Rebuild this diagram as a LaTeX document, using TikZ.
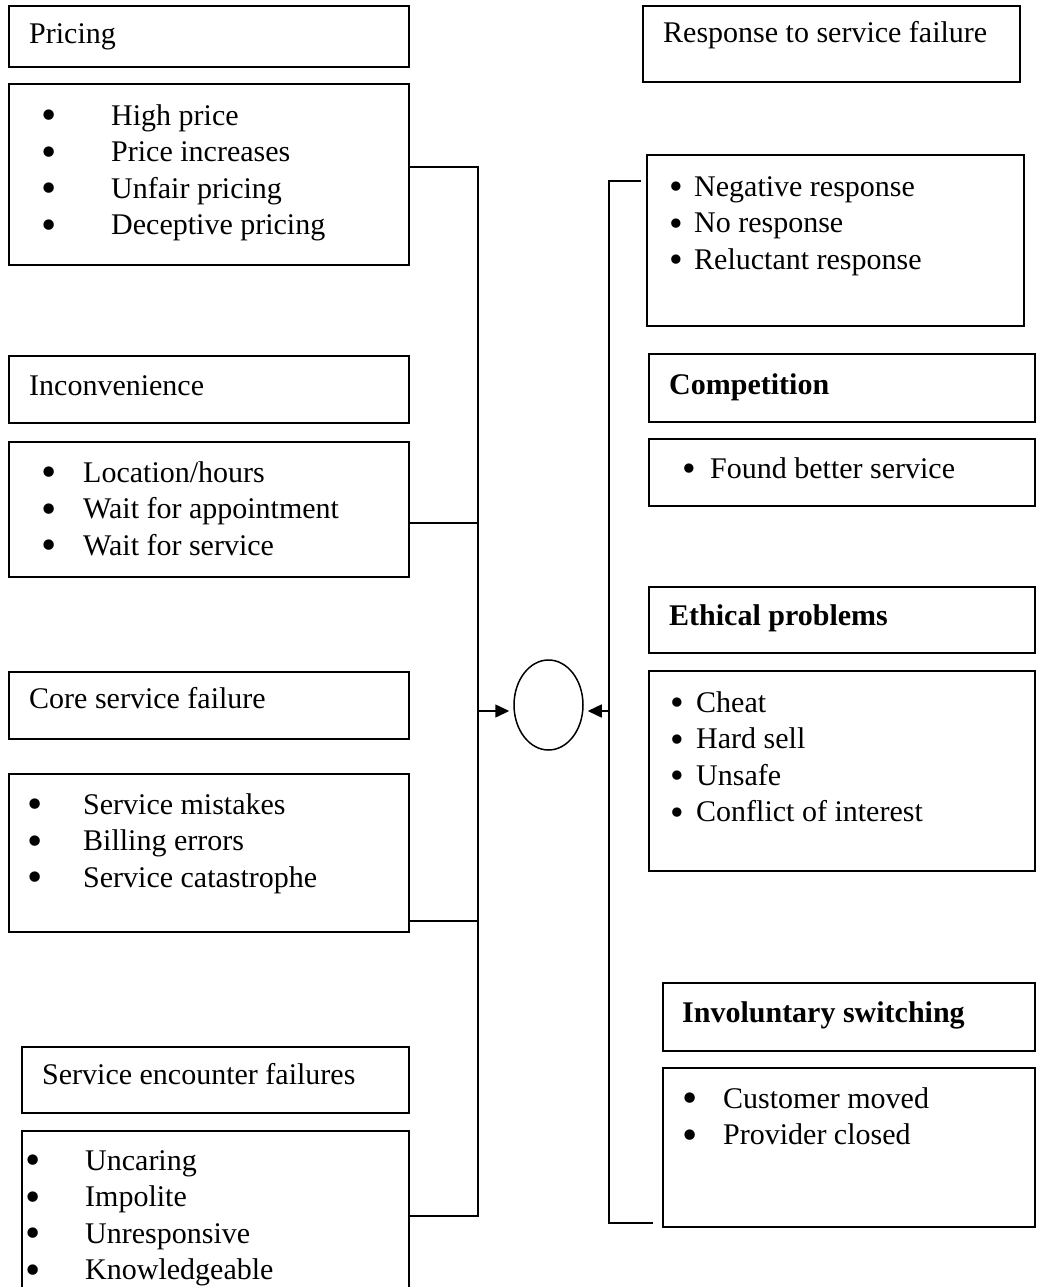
\documentclass[tikz,border=0pt]{standalone}
\usepackage{fontspec}
\setmainfont{Liberation Serif}
\usepackage{graphicx}
\usetikzlibrary{arrows.meta,fit,shapes.geometric}
\newcommand\mybul{\makebox[0pt][c]{\raisebox{-4.5pt}{\scalebox{1.45}{\textbullet}}}}
\newcommand\mybulr{\makebox[0pt][c]{\raisebox{-3.5pt}{\scalebox{1.3}{\textbullet}}}}
\newcommand\mkbox[5]{\node[boxs, fit={(#2,#3)(#4,#5)}] (#1) {};}
\tikzset{
  boxs/.style={draw, line width=1.5pt, inner sep=0pt},
  txt/.style={anchor=base west, inner sep=0pt, font=\fontsize{30}{36.5}\selectfont},
  conn/.style={line width=1.5pt},
  arr/.style={line width=1.5pt, -{Triangle[length=14pt,width=13pt]}, shorten >=4pt},
}
\begin{document}
\begin{tikzpicture}[x=1pt,y=-1pt]
\fill[white] (0,0) rectangle (1036,1287);
\useasboundingbox (0,0) rectangle (1036,1287);
% ---- left column ----
\mkbox{pH}{9}{6}{409}{67}
\node[txt] (pHt) at (29,44) {Pricing};
\mkbox{pB}{9}{84}{409}{265}
\node[txt] (pBt) at (49,125) {\begin{tabular}[t]{@{}p{62pt}@{}l@{}}
\mybul & High price\\ \mybul & Price increases\\ \mybul & Unfair pricing\\ \mybul & Deceptive pricing\end{tabular}};
\mkbox{iH}{9}{356}{409}{423}
\node[txt] (iHt) at (29,395) {Inconvenience};
\mkbox{iB}{9}{442}{409}{577}
\node[txt] (iBt) at (49,482) {\begin{tabular}[t]{@{}p{34pt}@{}l@{}}
\mybul & Location/hours\\ \mybul & Wait for appointment\\ \mybul & Wait for service\end{tabular}};
\mkbox{cH}{9}{672}{409}{739}
\node[txt] (cHt) at (29,708) {Core service failure};
\mkbox{cB}{9}{774}{409}{932}
\node[txt] (cBt) at (35,814) {\begin{tabular}[t]{@{}p{48pt}@{}l@{}}
\mybul & Service mistakes\\ \mybul & Billing errors\\ \mybul & Service catastrophe\end{tabular}};
\mkbox{sH}{22}{1047}{409}{1113}
\node[txt] (sHt) at (42,1084) {Service encounter failures};
\mkbox{sB}{22}{1131}{409}{1320}
\node[txt] (sBt) at (33,1170) {\begin{tabular}[t]{@{}p{52pt}@{}l@{}}
\mybul & Uncaring\\ \mybul & Impolite\\ \mybul & Unresponsive\\ \mybul & Knowledgeable\end{tabular}};
% ---- right column ----
\mkbox{rH}{643}{6}{1020}{82}
\node[txt] (rHt) at (663,43) {Response to service failure};
\mkbox{rB}{647}{155}{1024}{326}
\node[txt] (rBt) at (676,196) {\begin{tabular}[t]{@{}p{18pt}@{}l@{}}
\mybulr & Negative response\\ \mybulr & No response\\ \mybulr & Reluctant response\end{tabular}};
\mkbox{kH}{649}{354}{1035}{422}
\node[txt] (kHt) at (669,394) {\textbf{Competition}};
\mkbox{kB}{649}{439}{1035}{506}
\node[txt] (kBt) at (689,478) {\begin{tabular}[t]{@{}p{21pt}@{}l@{}}
\mybulr & Found better service\end{tabular}};
\mkbox{eH}{649}{587}{1035}{653}
\node[txt] (eHt) at (669,625) {\textbf{Ethical problems}};
\mkbox{eB}{649}{671}{1035}{871}
\node[txt] (eBt) at (677,712) {\begin{tabular}[t]{@{}p{19pt}@{}l@{}}
\mybulr & Cheat\\ \mybulr & Hard sell\\ \mybulr & Unsafe\\ \mybulr & Conflict of interest\end{tabular}};
\mkbox{vH}{663}{983}{1035}{1051}
\node[txt] (vHt) at (682,1022) {\textbf{Involuntary switching}};
\mkbox{vB}{663}{1068}{1035}{1227}
\node[txt] (vBt) at (690,1108) {\begin{tabular}[t]{@{}p{33pt}@{}l@{}}
\mybul & Customer moved\\ \mybul & Provider closed\end{tabular}};
% ---- centre ----
\node[draw, ellipse, line width=1.5pt, minimum width=69pt, minimum height=90pt, inner sep=0pt] (ell) at (548.5,705) {};
% ---- connectors ----
\coordinate (pJ) at (478,167);
\coordinate (iJ) at (478,523);
\coordinate (cJ) at (478,921);
\coordinate (sJ) at (478,1216);
\coordinate (aL) at (478,711);
\draw[conn] (pB.east |- pJ) -- (pJ) -- (sJ) -- (sB.east |- sJ);
\draw[conn] (iB.east |- iJ) -- (iJ);
\draw[conn] (cB.east |- cJ) -- (cJ);
\draw[arr] (aL) -- (aL -| ell.west);
\coordinate (rJ) at (609,181);
\coordinate (rJe) at (641,181);
\coordinate (vJ) at (609,1223);
\coordinate (vJe) at (653,1223);
\coordinate (aR) at (609,711);
\draw[conn] (rJe) -- (rJ) -- (vJ) -- (vJe);
\draw[arr] (aR) -- (aR -| ell.east);
\end{tikzpicture}
\end{document}
